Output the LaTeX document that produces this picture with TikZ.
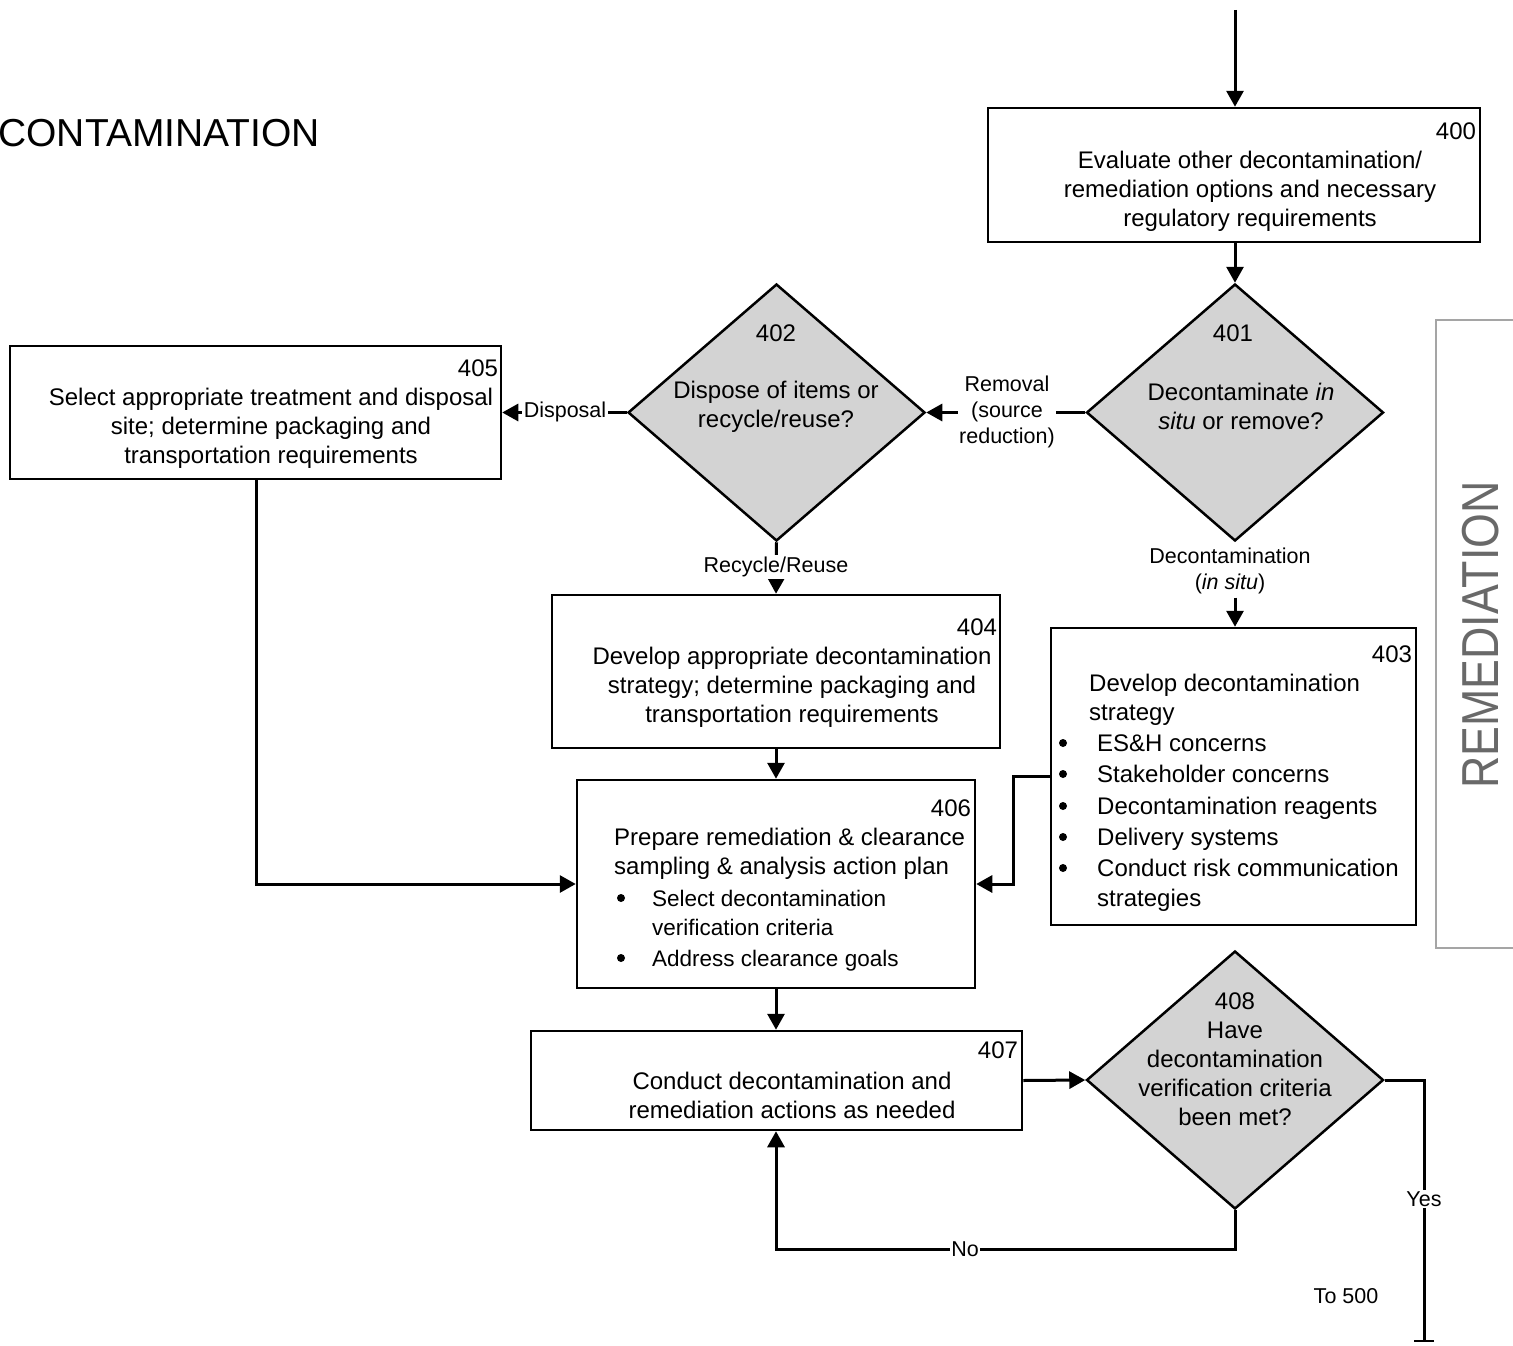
\documentclass[tikz,border=0pt]{standalone}
\usepackage{fontspec}
\setmainfont{Liberation Sans}
\usetikzlibrary{arrows.meta,shapes.geometric}
\definecolor{diafill}{RGB}{211,211,211}
\definecolor{tabgray}{RGB}{165,165,165}
\definecolor{tabtext}{RGB}{105,105,105}

\begin{document}
\begin{tikzpicture}[x=1pt,y=-1pt,
  box/.style={draw,line width=2.5pt,inner sep=0pt},
  decision/.style={diamond,draw,fill=diafill,line width=2.5pt,inner sep=0pt},
  conn/.style={line width=3pt,-{Triangle[length=16pt,width=17pt]}},
  plainline/.style={line width=3pt},
  txt/.style={font=\fontsize{24}{29}\selectfont,align=center,inner sep=0pt},
  num/.style={font=\fontsize{24}{29}\selectfont,inner sep=0pt},
  lbl/.style={font=\fontsize{21.5}{26}\selectfont,align=center,fill=white,inner sep=1.5pt},
  item/.style={font=\fontsize{24}{29}\selectfont,anchor=base west,inner sep=0pt},
  subitem/.style={font=\fontsize{22.5}{29}\selectfont,anchor=base west,inner sep=0pt},
  bul/.style={circle,fill=black,inner sep=0pt,minimum size=8pt}]

\useasboundingbox (0,0) rectangle (1513,1346);
\clip (0,0) rectangle (1513,1346);

% heading
\node[anchor=east,inner sep=0pt,font=\fontsize{39}{45}\selectfont] (title) at (320,133) {CONTAMINATION};

% side tab
\draw[tabgray,line width=2pt] (1540,320) -- (1436,320) -- (1436,948) -- (1540,948);
\node[rotate=90,inner sep=0pt,text=tabtext,font=\fontsize{52}{60}\selectfont] (tab) at (1481,635) {\scalebox{0.86}[1]{REMEDIATION}};

% boxes
\node[box,minimum width=492pt,minimum height=134pt] (b400) at (1234,175) {};
\node[box,minimum width=491pt,minimum height=133pt] (b405) at (255.5,412.5) {};
\node[box,minimum width=448pt,minimum height=153pt] (b404) at (776,671.5) {};
\node[box,minimum width=398pt,minimum height=208pt] (b406) at (776,884) {};
\node[box,minimum width=365pt,minimum height=297pt] (b403) at (1233.5,776.5) {};
\node[box,minimum width=491pt,minimum height=99pt] (b407) at (776.5,1080.5) {};

% decisions
\node[decision,minimum width=297pt,minimum height=257pt] (d401) at (1235,412.5) {};
\node[decision,minimum width=297pt,minimum height=257pt] (d402) at (776.5,412.5) {};
\node[decision,minimum width=297pt,minimum height=258pt] (d408) at (1235,1080) {};

% box texts
\node[txt] (t400) at (1250,191) {Evaluate other decontamination/\\remediation options and necessary\\regulatory requirements};
\node[txt] (t405) at (271,428) {Select appropriate treatment and disposal\\site; determine packaging and\\transportation requirements};
\node[txt] (t404) at (792,687) {Develop appropriate decontamination\\strategy; determine packaging and\\transportation requirements};
\node[txt] (t407) at (792,1095) {Conduct decontamination and\\remediation actions as needed};
\node[txt] (t401) at (1241,406) {Decontaminate \textit{in}\\\textit{situ} or remove?};
\node[txt] (t402) at (776,407) {Dispose of items or\\recycle/reuse?};
\node[txt] (t408) at (1235,1059) {408\\Have\\decontamination\\verification criteria\\been met?};

% box 406 content
\node[item] (p406a) at (614,845) {Prepare remediation \& clearance};
\node[item] (p406b) at (614,874) {sampling \& analysis action plan};
\node[bul] (u406a) at (621,898) {};
\node[subitem] (s406a) at (652,906) {Select decontamination};
\node[subitem] (s406b) at (652,935) {verification criteria};
\node[bul] (u406b) at (621,958) {};
\node[subitem] (s406c) at (652,966) {Address clearance goals};

% box 403 content
\node[item] (p403a) at (1089,691) {Develop decontamination};
\node[item] (p403b) at (1089,720) {strategy};
\node[bul] (u403a) at (1063,743) {};
\node[item] (s403a) at (1097,751) {ES\&H concerns};
\node[bul] (u403b) at (1063,774) {};
\node[item] (s403b) at (1097,782) {Stakeholder concerns};
\node[bul] (u403c) at (1063,806) {};
\node[item] (s403c) at (1097,814) {Decontamination reagents};
\node[bul] (u403d) at (1063,837) {};
\node[item] (s403d) at (1097,845) {Delivery systems};
\node[bul] (u403e) at (1063,868) {};
\node[item] (s403e) at (1097,876) {Conduct risk communication};
\node[item] (s403f) at (1097,906) {strategies};

% step numbers
\node[num] (n400) at (1456,131) {400};
\node[num] (n401) at (1233,333) {401};
\node[num] (n402) at (776,333) {402};
\node[num] (n403) at (1392,654) {403};
\node[num] (n404) at (977,627) {404};
\node[num] (n405) at (478,368) {405};
\node[num] (n406) at (951,808) {406};
\node[num] (n407) at (998,1050) {407};

% label sitting right under decision 401
\node[lbl,fill=none] (lDec) at (1230,571) {Decontamination\\(\textit{in situ})};

% connectors
\coordinate (entry) at (1235,10);
\draw[conn] (entry) -- (b400.north -| entry);
\draw[conn] (b400.south -| d401.north) -- (d401.north);
\draw[conn] (d401.west) -- (d402.east);
\draw[conn] (d402.west) -- (b405.east);
\draw[conn] (d402.south) -- (b404.north);
\draw[conn] (lDec.south -| d401.south) ++(0,2) -- (b403.north -| d401.south);
\draw[conn] (b404.south) -- (b406.north);
\coordinate (k405) at (256,884);
\draw[conn] (b405.south -| k405) -- (k405) -- (b406.west);
\coordinate (k403) at (1013,776.5);
\draw[conn] (b403.west) -- (k403) |- (b406.east);
\draw[conn] (b406.south) -- (b407.north -| b406.south);
\draw[conn] (b407.east) -- (d408.west);
\coordinate (k408) at (1235,1249);
\draw[conn] (d408.south) -- (k408) -| (b407.south -| b406.south);
\coordinate (exit) at (1424,1342);
\draw[plainline,-{Bar[width=20pt,line width=2pt]}] (d408.east) -| (exit);

% connector labels
\node[lbl] (lDisp) at (565,412) {Disposal};
\node[lbl] (lRem) at (1007,412) {Removal\\(source\\reduction)};
\node[lbl] (lRec) at (776,567) {Recycle/Reuse};
\node[lbl] (lNo) at (965,1249) {No};
\node[lbl] (lYes) at (1424,1199) {Yes};
\node[lbl,fill=none] (lTo) at (1346,1296) {To 500};
\end{tikzpicture}
\end{document}
